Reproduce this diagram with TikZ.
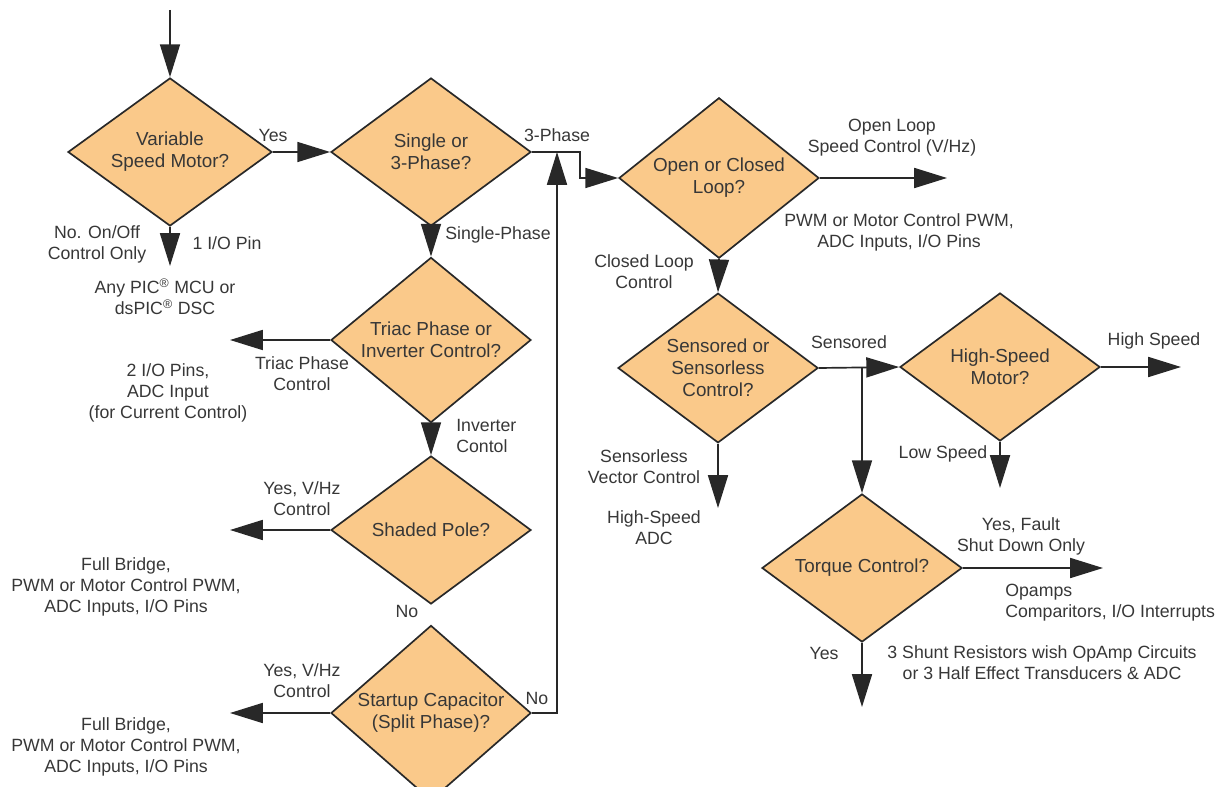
\documentclass[tikz,border=0pt]{standalone}
\usepackage{fontspec}
\setmainfont{Liberation Sans}
\usetikzlibrary{shapes.geometric,arrows.meta}
\definecolor{diafill}{RGB}{250,201,138}
\definecolor{inkgray}{RGB}{40,40,40}
\definecolor{textgray}{RGB}{55,55,55}
\newcommand{\decfont}{\fontsize{13.4}{15.8}\selectfont}
\newcommand{\notefont}{\fontsize{12.6}{15}\selectfont}
\tikzset{
  decision/.style={diamond, draw=inkgray, line width=1.2pt, fill=diafill,
    minimum width=5cm, minimum height=3.7cm, inner sep=-2pt, align=center,
    font=\decfont, text=textgray},
  note/.style={font=\notefont, text=textgray, align=center, inner sep=0pt},
  flow/.style={draw=inkgray, line width=1.2pt, -{Triangle[length=0.82cm,width=0.5cm]}},
}
\begin{document}
\begin{tikzpicture}[x=0.025cm,y=-0.025cm]
\useasboundingbox (0,0) rectangle (1227,787);
% decisions
\node[decision, minimum width=5.1cm] (speed) at (170,152) {Variable\\Speed Motor?};
\node[decision] (phase) at (431,152) {Single or\\3-Phase?};
\node[decision] (triac) at (431,340) {Triac Phase or\\Inverter Control?};
\node[decision] (shaded) at (431,530) {Shaded Pole?};
\node[decision] (startup) at (431,713) {Startup Capacitor\\(Split Phase)?};
\node[decision] (loop) at (719,178) {Open or Closed\\Loop?};
\node[decision] (sense) at (718,368) {Sensored or\\Sensorless\\Control?};
\node[decision] (hsmotor) at (1000,367) {High-Speed\\Motor?};
\node[decision] (torque) at (862,568) {Torque Control?};
% free ends and bends
\coordinate (entry) at (170,10);
\coordinate (onoffOut) at (170,266);
\coordinate (jog) at (580,165);
\coordinate (join) at (557,152);
\coordinate (triacOut) at (230,340);
\coordinate (shadedOut) at (230,530);
\coordinate (startupOut) at (230,713);
\coordinate (openOut) at (947,178);
\coordinate (vectorOut) at (718,508);
\coordinate (fork) at (862,367);
\coordinate (highOut) at (1181,367);
\coordinate (lowOut) at (1000,488);
\coordinate (faultOut) at (1103,568);
\coordinate (yesOut) at (862,707);
% connectors
\draw[flow] (entry) -- (speed.north);
\draw[flow] (speed.east) -- (phase.west);
\draw[flow] (speed.south) -- (onoffOut);
\draw[flow] (phase.east) -| (jog) |- (loop.west);
\draw[flow] (phase.south) -- (triac.north);
\draw[flow] (triac.west) -- (triacOut);
\draw[flow] (triac.south) -- (shaded.north);
\draw[flow] (shaded.west) -- (shadedOut);
\draw[flow] (startup.west) -- (startupOut);
\draw[flow] (startup.east) -| (join);
\draw[flow] (loop.east) -- (openOut);
\draw[flow] (loop.south) -- (sense.north);
\draw[flow] (sense.south) -- (vectorOut);
\draw[flow] (sense.east) -- (hsmotor.west);
\draw[flow] (fork) -- (torque.north);
\draw[flow] (hsmotor.east) -- (highOut);
\draw[flow] (hsmotor.south) -- (lowOut);
\draw[flow] (torque.east) -- (faultOut);
\draw[flow] (torque.south) -- (yesOut);
% labels
\node[note] (yesA) at (273,135) {Yes};
\node[note] (onoffLbl) at (97,244) {No. On/Off\\Control Only};
\node[note] (pinLbl) at (227,243) {1 I/O Pin};
\node[note] (anyLbl) at (165,297) {Any PIC\textsuperscript{®} MCU or\\dsPIC\textsuperscript{®} DSC};
\node[note] (threeLbl) at (557,135) {3-Phase};
\node[note, anchor=west] (singleLbl) at (445,235) {Single-Phase};
\node[note] (triacLbl) at (302,374) {Triac Phase\\Control};
\node[note] (twoLbl) at (168,393) {2 I/O Pins,\\ADC Input\\(for Current Control)};
\node[note, align=left, anchor=west] (invLbl) at (456,436) {Inverter\\Contol};
\node[note] (vhzA) at (302,499) {Yes, V/Hz\\Control};
\node[note] (bridgeA) at (126,587) {Full Bridge,\\PWM or Motor Control PWM,\\ADC Inputs, I/O Pins};
\node[note] (noA) at (407,611) {No};
\node[note] (vhzB) at (302,681) {Yes, V/Hz\\Control};
\node[note] (bridgeB) at (126,747) {Full Bridge,\\PWM or Motor Control PWM,\\ADC Inputs, I/O Pins};
\node[note] (noB) at (537,698) {No};
\node[note] (openLbl) at (892,138) {Open Loop\\Speed Control (V/Hz)};
\node[note] (pwmLbl) at (899,232) {PWM or Motor Control PWM,\\ADC Inputs, I/O Pins};
\node[note] (closedLbl) at (644,272) {Closed Loop\\Control};
\node[note] (sensedLbl) at (849,342) {Sensored};
\node[note] (highLbl) at (1154,341) {High Speed};
\node[note] (lowLbl) at (943,454) {Low Speed};
\node[note] (vectorLbl) at (644,467) {Sensorless\\Vector Control};
\node[note] (adcLbl) at (654,528) {High-Speed\\ADC};
\node[note] (faultLbl) at (1021,536) {Yes, Fault\\Shut Down Only};
\node[note, align=left, anchor=west] (opampLbl) at (1005,603) {Opamps\\Comparitors, I/O Interrupts};
\node[note] (yesB) at (824,653) {Yes};
\node[note] (shuntLbl) at (1042,663) {3 Shunt Resistors wish OpAmp Circuits\\or 3 Half Effect Transducers \& ADC};
\end{tikzpicture}
\end{document}
